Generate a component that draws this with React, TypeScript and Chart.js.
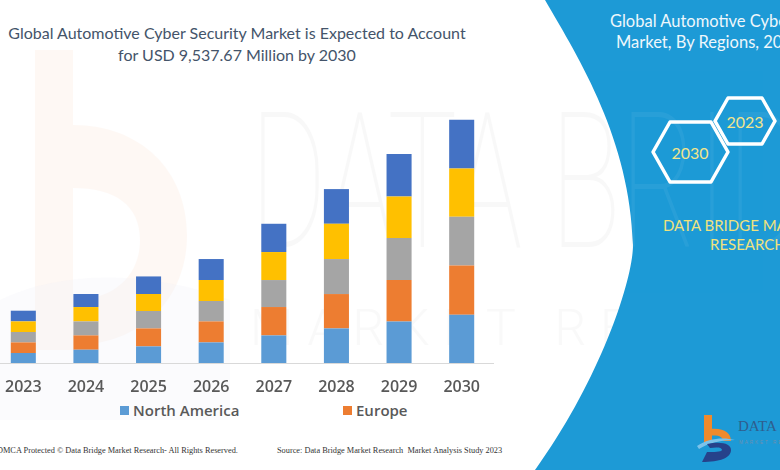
import React, { useEffect, useRef } from "react";
import { Chart, registerables } from "chart.js";

Chart.register(...registerables);

// ---- data ----
const years = ["2023", "2024", "2025", "2026", "2027", "2028", "2029", "2030"];
const northAmerica = [392, 521, 651, 808, 1082, 1356, 1631, 1893];
const europe = [416, 561, 706, 823, 1113, 1348, 1623, 1933];
const asiaPacific = [408, 549, 682, 800, 1058, 1372, 1646, 1909];
const middleEastAfrica = [416, 564, 666, 823, 1098, 1384, 1631, 1893];
const southAmerica = [419, 510, 690, 823, 1109, 1360, 1662, 1909];
const seriesNames = ["North America", "Europe", "Asia-Pacific", "Middle East and Africa", "South America"];
const seriesColors = ["#5b9bd5", "#ed7d31", "#a5a5a5", "#ffc000", "#4472c4"];
const titleLines = ["Global Automotive Cyber Security Market is Expected to Account", "for USD 9,537.67 Million by 2030"];
const panelTitleLines = ["Global Automotive Cyber Security", "Market, By Regions, 2023"];
const hexYears = ["2030", "2023"];
const yMax = 10000;

const PANEL_BLUE = "#1d9ad6";
const panelPath = "M545,0 C580,60 630,140 633,245 C633,280 600,380 535,470 L780,470 L780,0 Z";

export default function App() {
  const ref = useRef<HTMLCanvasElement>(null);

  useEffect(() => {
    const values = [northAmerica, europe, asiaPacific, middleEastAfrica, southAmerica];
    const chart = new Chart(ref.current as HTMLCanvasElement, {
      type: "bar",
      data: {
        labels: years,
        datasets: values.map((v, i) => ({
          label: seriesNames[i],
          data: v,
          backgroundColor: seriesColors[i],
          borderWidth: 0,
          barPercentage: 0.8,
          categoryPercentage: 0.5,
        })),
      },
      options: {
        responsive: false,
        animation: false,
        layout: { padding: { left: 12, right: 7, top: 8, bottom: 0 } },
        plugins: { legend: { display: false }, tooltip: { enabled: false }, title: { display: false } },
        scales: {
          x: {
            stacked: true,
            grid: { display: false, drawTicks: false },
            border: { display: true, color: "#d9d9d9", width: 1 },
            ticks: {
              padding: 15,
              color: "#595959",
              font: { family: "'Open Sans'", size: 16, weight: "600" },
            },
            afterFit: (s: any) => {
              s.height = 37;
            },
          },
          y: {
            stacked: true,
            display: false,
            min: 0,
            max: yMax,
          },
        },
      },
    });
    return () => chart.destroy();
  }, []);

  return (
    <div
      style={{
        position: "fixed",
        left: 0,
        top: 0,
        width: 780,
        height: 470,
        overflow: "hidden",
        background: "#ffffff",
        fontFamily: "Lato, sans-serif",
      }}
    >
      <svg width={780} height={470} style={{ position: "absolute", left: 0, top: 0 }}>
        <defs>
          <clipPath id="panelClip">
            <path d={panelPath} />
          </clipPath>
        </defs>
        {/* faint orange "b" watermark */}
        <g fill="#fbe3d2" opacity={0.22}>
          <rect x={35} y={50} width={38} height={300} />
          <path d="M73,125 C140,125 187,170 187,235 C187,300 140,345 73,345 L73,300 C115,300 140,275 140,240 C140,205 115,188 73,188 Z" />
        </g>
        <path d="M0,300 C60,270 150,270 230,300 L230,420 L0,420 Z" fill="#eef1f6" opacity={0.25} />
        {/* gray watermark text */}
        <text x={250} y={247} fontFamily="Roboto" fontWeight={100} fontSize={190} textLength={700} lengthAdjust="spacingAndGlyphs" fill="#000" opacity={0.025}>
          DATA BRIDGE
        </text>
        <text x={250} y={345} fontFamily="Roboto" fontWeight={300} fontSize={50} textLength={650} lengthAdjust="spacing" fill="#000" opacity={0.02}>
          MARKET RESEARCH
        </text>
        {/* blue panel */}
        <path d={panelPath} fill={PANEL_BLUE} />
        <g clipPath="url(#panelClip)">
          <text x={250} y={247} fontFamily="Roboto" fontWeight={100} fontSize={190} textLength={700} lengthAdjust="spacingAndGlyphs" fill="#fff" opacity={0.05}>
            DATA BRIDGE
          </text>
        </g>
        {/* hexagons */}
        <polygon points="653,152 670,122 711,122 728,152 711,182 670,182" fill="none" stroke="#ffffff" strokeWidth={3.5} strokeLinejoin="round" />
        <polygon points="715,121 728,98 762,98 775,121 762,144 728,144" fill="none" stroke="#ffffff" strokeWidth={3.5} strokeLinejoin="round" />
        <text x={690} y={152} textAnchor="middle" dominantBaseline="central" fontFamily="Lato" fontSize={16} fill="#f3e58c">
          {hexYears[0]}
        </text>
        <text x={745} y={121} textAnchor="middle" dominantBaseline="central" fontFamily="Lato" fontSize={16} fill="#f3e58c">
          {hexYears[1]}
        </text>
        {/* logo */}
        <g>
          <rect x={704} y={415} width={8} height={28} fill="#f08a2c" />
          <path d="M704,430 C722,426 731,432 731,441 L723,441 C723,436 716,434 704,437 Z" fill="#f08a2c" />
          <path d="M697,446 C708,438 724,437 735,440 C722,440 708,443 699,449 Z" fill="#7cc3ea" />
          <path d="M707,444 C722,441 731,444 731,450 C731,458 720,462 702,462 L707,452 C714,452 721,452 722,450 C722,447 716,447 710,448 Z" fill="#26428b" />
          <text x={738} y={431} fontFamily="'Liberation Serif'" fontSize={15} fill="#2f5e8e">
            DATA BRIDGE
          </text>
          <text x={739} y={444} fontFamily="'Liberation Sans'" fontSize={4.5} letterSpacing={2} fill="#6f8fb0">
            MARKET RESEARCH
          </text>
        </g>
      </svg>

      <canvas
        ref={ref}
        width={520}
        height={300}
        style={{ position: "absolute", left: -20, top: 100, width: 520, height: 300 }}
      />

      {/* legend (first row of the original legend) */}
      {[0, 1].map((i) => (
        <div
          key={i}
          style={{
            position: "absolute",
            left: i === 0 ? 120 : 343,
            top: 400,
            height: 20,
            display: "flex",
            alignItems: "center",
            fontFamily: "'Open Sans'",
            fontWeight: 600,
            fontSize: 15,
            color: "#595959",
            whiteSpace: "nowrap",
          }}
        >
          <span style={{ display: "inline-block", width: 9, height: 9, background: seriesColors[i], marginRight: 4 }} />
          <span>{seriesNames[i]}</span>
        </div>
      ))}

      {/* main title */}
      <div
        style={{
          position: "absolute",
          left: 0,
          top: 22,
          width: 474,
          textAlign: "center",
          fontFamily: "Lato",
          fontSize: 16,
          lineHeight: "22px",
          color: "#44546a",
          whiteSpace: "nowrap",
        }}
      >
        <div>{titleLines[0]}</div>
        <div>{titleLines[1]}</div>
      </div>

      {/* panel title */}
      <div style={{ position: "absolute", left: 610, top: 11, fontFamily: "Lato", fontSize: 16.5, lineHeight: "21px", color: "#eef7fc", whiteSpace: "nowrap" }}>
        {panelTitleLines[0]}
      </div>
      <div style={{ position: "absolute", left: 616, top: 32, fontFamily: "Lato", fontSize: 16.5, lineHeight: "21px", color: "#eef7fc", whiteSpace: "nowrap" }}>
        {panelTitleLines[1]}
      </div>

      {/* panel brand text */}
      <div style={{ position: "absolute", left: 663, top: 215, fontFamily: "Lato", fontSize: 15, lineHeight: "20px", color: "#f0e27e", whiteSpace: "nowrap" }}>
        DATA BRIDGE MARKET
      </div>
      <div style={{ position: "absolute", left: 710, top: 234, fontFamily: "Lato", fontSize: 15, lineHeight: "20px", color: "#f0e27e", whiteSpace: "nowrap" }}>
        RESEARCH
      </div>

      {/* footer */}
      <div style={{ position: "absolute", left: -3, top: 445, fontFamily: "'Liberation Serif'", fontSize: 8.3, lineHeight: "12px", color: "#333", whiteSpace: "nowrap" }}>
        DMCA Protected © Data Bridge Market Research-  All Rights Reserved.
      </div>
      <div style={{ position: "absolute", left: 277, top: 445, fontFamily: "'Liberation Serif'", fontSize: 8.3, lineHeight: "12px", color: "#333", whiteSpace: "nowrap" }}>
        Source: Data Bridge Market Research&nbsp; Market Analysis Study 2023
      </div>
    </div>
  );
}
